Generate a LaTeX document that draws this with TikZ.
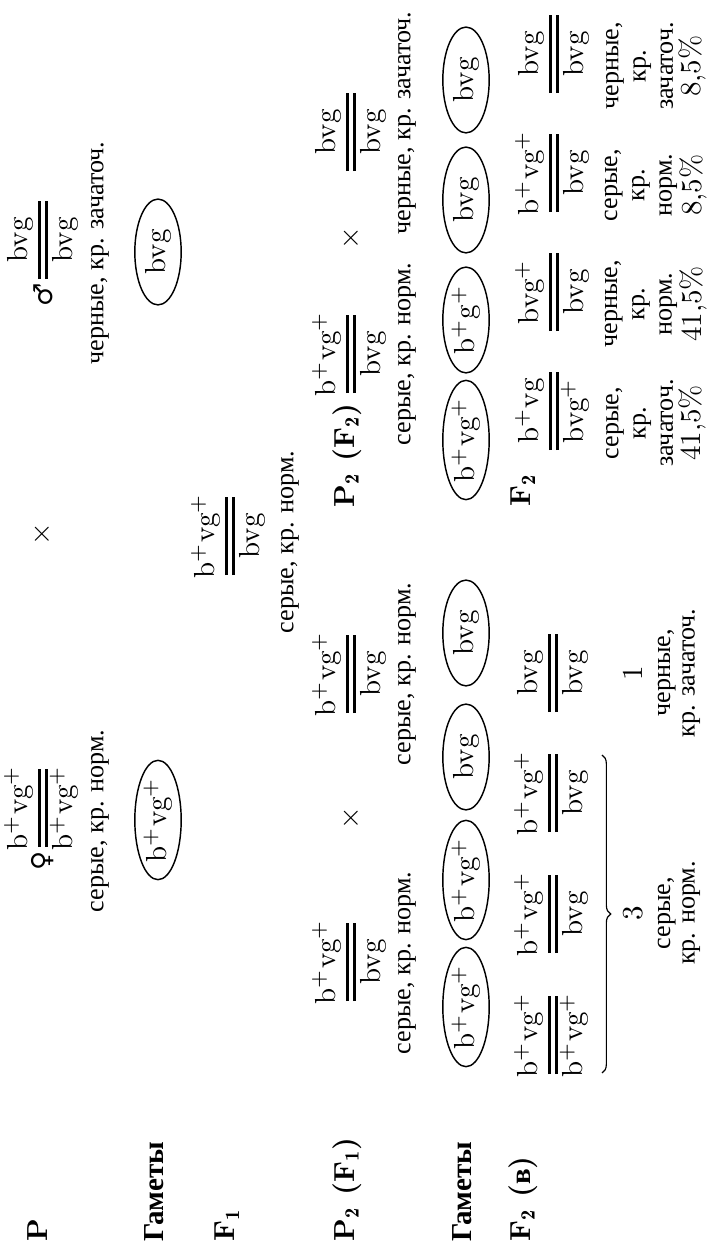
\documentclass[tikz,border=0pt]{standalone}
\usepackage{fontspec}
\usepackage{tikz}
\usetikzlibrary{shapes.geometric,decorations.pathreplacing}
\newfontfamily\cyr[Scale=0.9]{Liberation Serif}
\newfontfamily\cyrl{Liberation Serif}
\newfontfamily\symf{DejaVu Sans}
\newcommand\gp{$^+$}
\newcommand\geno[2]{\vbox{\offinterlineskip\hsize=27pt
  \hbox to 27pt{\hss\strut#1\hss}\kern0.3pt
  \hrule height0.8pt\kern1.6pt\hrule height0.8pt\kern0.3pt
  \hbox to 27pt{\hss\strut#2\hss}}}
\tikzset{
  gt/.style  ={inner sep=0pt},
  num/.style ={inner sep=0pt},
  ph/.style  ={font=\cyr, inner sep=0pt},
  phc/.style ={font=\cyr\fontsize{10}{8.4}\selectfont, align=center, inner sep=0pt},
  phr/.style ={font=\cyr\fontsize{10}{9.4}\selectfont, align=center, inner sep=0pt},
  lab/.style ={font=\bfseries, anchor=west, inner sep=0pt},
  gam/.style ={draw, ellipse, line width=0.5pt, minimum width=36.5pt, minimum height=16pt, inner sep=0pt},
  brc/.style ={decorate, decoration={brace, amplitude=3pt, mirror}, line width=0.4pt},
  sx/.style  ={font=\symf\small, inner sep=1pt, anchor=east},
}
\begin{document}
\begin{tikzpicture}[x=0.345pt, y=0.345pt, rotate=90, transform shape]
  \useasboundingbox (0,0) rectangle (1247,-712);
  % row labels
  \node[lab] (lP)   at (5,-38)  {P};
  \node[lab] (lG1)  at (5,-154) {\cyrl Гаметы};
  \node[lab] (lF1)  at (5,-227) {F$_{\mathbf 1}$};
  \node[lab] (lP2a) at (5,-347) {P$_{\mathbf 2}$ (F$_{\mathbf 1}$)};
  \node[lab] (lG2)  at (5,-462) {\cyrl Гаметы};
  \node[lab] (lF2a) at (5,-523) {F$_{\mathbf 2}$ ({\cyrl в})};
  \node[lab] (lP2b) at (739,-347) {P$_{\mathbf 2}$ (F$_{\mathbf 2}$)};
  \node[lab] (lF2b) at (740,-523) {F$_{\mathbf 2}$};
  % P
  \node[gt] (pF) at (439,-43) {\geno{b\gp vg\gp}{b\gp vg\gp}};
  \node[sx] (sF) at (pF.west) {♀};
  \node[ph] (tF) at (426,-100) {серые, кр. норм.};
  \node[num] (xP) at (713,-42) {$\times$};
  \node[gt] (pM) at (1007,-43) {\geno{bvg}{bvg}};
  \node[sx] (sM) at (pM.west) {♂};
  \node[ph] (tM) at (994,-100) {черные, кр. зачаточ.};
  \node[gam] (gF) at (427,-158) {b\gp vg\gp};
  \node[gam] (gM) at (995,-158) {bvg};
  % F1
  \node[gt] (f1) at (711,-230) {\geno{b\gp vg\gp}{bvg}};
  \node[ph] (tf1) at (705,-290) {серые, кр. норм.};
  % P2
  \node[gt] (pa1) at (285,-351) {\geno{b\gp vg\gp}{bvg}};
  \node[ph] (ta1) at (284,-407) {серые, кр. норм.};
  \node[num] (xa) at (429,-351) {$\times$};
  \node[gt] (pa2) at (573,-351) {\geno{b\gp vg\gp}{bvg}};
  \node[ph] (ta2) at (573,-407) {серые, кр. норм.};
  \node[gt] (pb1) at (893,-351) {\geno{b\gp vg\gp}{bvg}};
  \node[ph] (tb1) at (893,-407) {серые, кр. норм.};
  \node[num] (xb) at (1009,-351) {$\times$};
  \node[gt] (pb2) at (1115,-351) {\geno{bvg}{bvg}};
  \node[ph] (tb2) at (1124,-407) {черные, кр. зачаточ.};
  % gametes
  \node[gam] (ga1) at (240,-466) {b\gp vg\gp};
  \node[gam] (ga2) at (367,-466) {b\gp vg\gp};
  \node[gam] (ga3) at (490,-466) {bvg};
  \node[gam] (ga4) at (614,-466) {bvg};
  \node[gam] (gb1) at (807,-466) {b\gp vg\gp};
  \node[gam] (gb2) at (927,-466) {b\gp g\gp};
  \node[gam] (gb3) at (1047,-466) {bvg};
  \node[gam] (gb4) at (1167,-466) {bvg};
  % F2 (b)
  \node[gt] (fa1) at (212,-553) {\geno{b\gp vg\gp}{b\gp vg\gp}};
  \node[gt] (fa2) at (333,-553) {\geno{b\gp vg\gp}{bvg}};
  \node[gt] (fa3) at (454,-553) {\geno{b\gp vg\gp}{bvg}};
  \node[gt] (fa4) at (574,-553) {\geno{bvg}{bvg}};
  \coordinate (bA) at (174,-602);
  \coordinate (bB) at (492,-602);
  \draw[brc] (bA) -- (bB);
  \node[num] (n3) at (334,-633) {3};
  \node[phc] (t3) at (334,-679) {серые,\\кр. норм.};
  \node[num] (n1) at (574,-633) {1};
  \node[phc] (t1) at (574,-679) {черные,\\кр. зачаточ.};
  % F2
  \node[gt] (fb1) at (836,-554) {\geno{b\gp vg}{bvg\gp}};
  \node[gt] (fb2) at (955,-554) {\geno{bvg\gp}{bvg}};
  \node[gt] (fb3) at (1074,-554) {\geno{b\gp vg\gp}{bvg}};
  \node[gt] (fb4) at (1193,-554) {\geno{bvg}{bvg}};
  \node[phr] (rb1) at (824,-656) {серые,\\кр.\\зачаточ.\\{\rmfamily 41,5\%}};
  \node[phr] (rb2) at (943,-656) {черные,\\кр.\\норм.\\{\rmfamily 41,5\%}};
  \node[phr] (rb3) at (1062,-656) {серые,\\кр.\\норм.\\{\rmfamily 8,5\%}};
  \node[phr] (rb4) at (1181,-656) {черные,\\кр.\\зачаточ.\\{\rmfamily 8,5\%}};
\end{tikzpicture}
\end{document}
